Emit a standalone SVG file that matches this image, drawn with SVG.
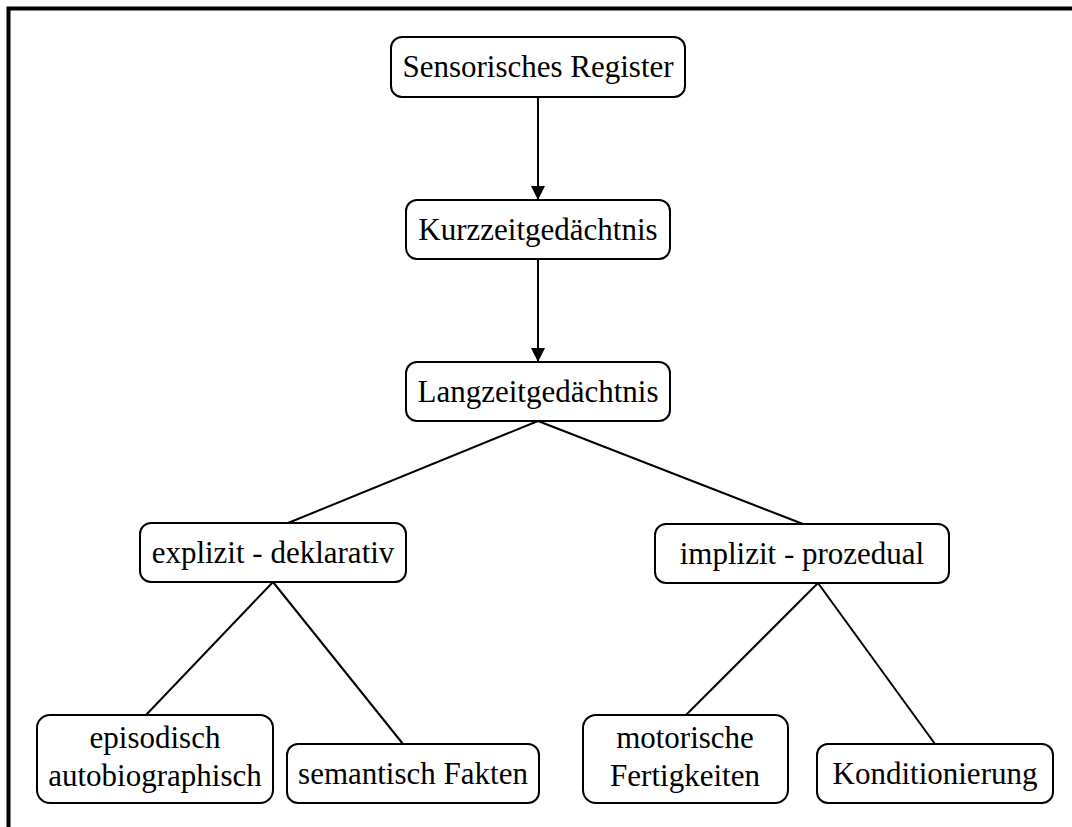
<svg xmlns="http://www.w3.org/2000/svg" width="1072" height="827" viewBox="0 0 1072 827">
<defs>
<marker id="ah" viewBox="0 0 14 16" refX="14" refY="8" markerWidth="14" markerHeight="16" markerUnits="userSpaceOnUse" orient="auto">
<path d="M0,1 L14,8 L0,15 Z" fill="#000"/>
</marker>
<style>
.box{fill:#fff;stroke:#000;stroke-width:2}
.t{font-family:"Liberation Serif","Times New Roman",serif;font-size:31px;fill:#000;text-anchor:middle}
.c{stroke:#000;stroke-width:2;fill:none}
</style>
</defs>
<rect x="0" y="0" width="1072" height="827" fill="#fff"/>
<path d="M8.5,1000 V8.5 H1200" fill="none" stroke="#000" stroke-width="4"/>
<g id="connectors">
<line class="c" x1="538" y1="97" x2="538" y2="200" marker-end="url(#ah)"/>
<line class="c" x1="538" y1="259" x2="538" y2="362" marker-end="url(#ah)"/>
<line class="c" x1="538" y1="421" x2="288" y2="523"/>
<line class="c" x1="538" y1="421" x2="803" y2="524"/>
<line class="c" x1="273" y1="582" x2="146" y2="715"/>
<line class="c" x1="273" y1="582" x2="403" y2="744"/>
<line class="c" x1="818" y1="583" x2="686" y2="715"/>
<line class="c" x1="818" y1="583" x2="935" y2="744"/>
</g>
<g id="n1"><rect class="box" x="391" y="37" width="294" height="60" rx="11"/><text class="t" x="538" y="77">Sensorisches Register</text></g>
<g id="n2"><rect class="box" x="406" y="200" width="264" height="59" rx="11"/><text class="t" x="538" y="240">Kurzzeitgedächtnis</text></g>
<g id="n3"><rect class="box" x="406" y="362" width="264" height="59" rx="11"/><text class="t" x="538" y="402">Langzeitgedächtnis</text></g>
<g id="n4"><rect class="box" x="140" y="523" width="266" height="59" rx="11"/><text class="t" x="273" y="563">explizit - deklarativ</text></g>
<g id="n5"><rect class="box" x="655" y="524" width="294" height="59" rx="11"/><text class="t" x="802" y="564">implizit - prozedual</text></g>
<g id="n6"><rect class="box" x="37" y="715" width="236" height="88" rx="13"/><text class="t" x="155" y="748">episodisch</text><text class="t" x="155" y="786">autobiographisch</text></g>
<g id="n7"><rect class="box" x="287" y="744" width="252" height="59" rx="11"/><text class="t" x="413" y="784">semantisch Fakten</text></g>
<g id="n8"><rect class="box" x="583" y="715" width="205" height="88" rx="13"/><text class="t" x="685" y="748">motorische</text><text class="t" x="685" y="786">Fertigkeiten</text></g>
<g id="n9"><rect class="box" x="817" y="744" width="236" height="59" rx="11"/><text class="t" x="935" y="784">Konditionierung</text></g>
</svg>
